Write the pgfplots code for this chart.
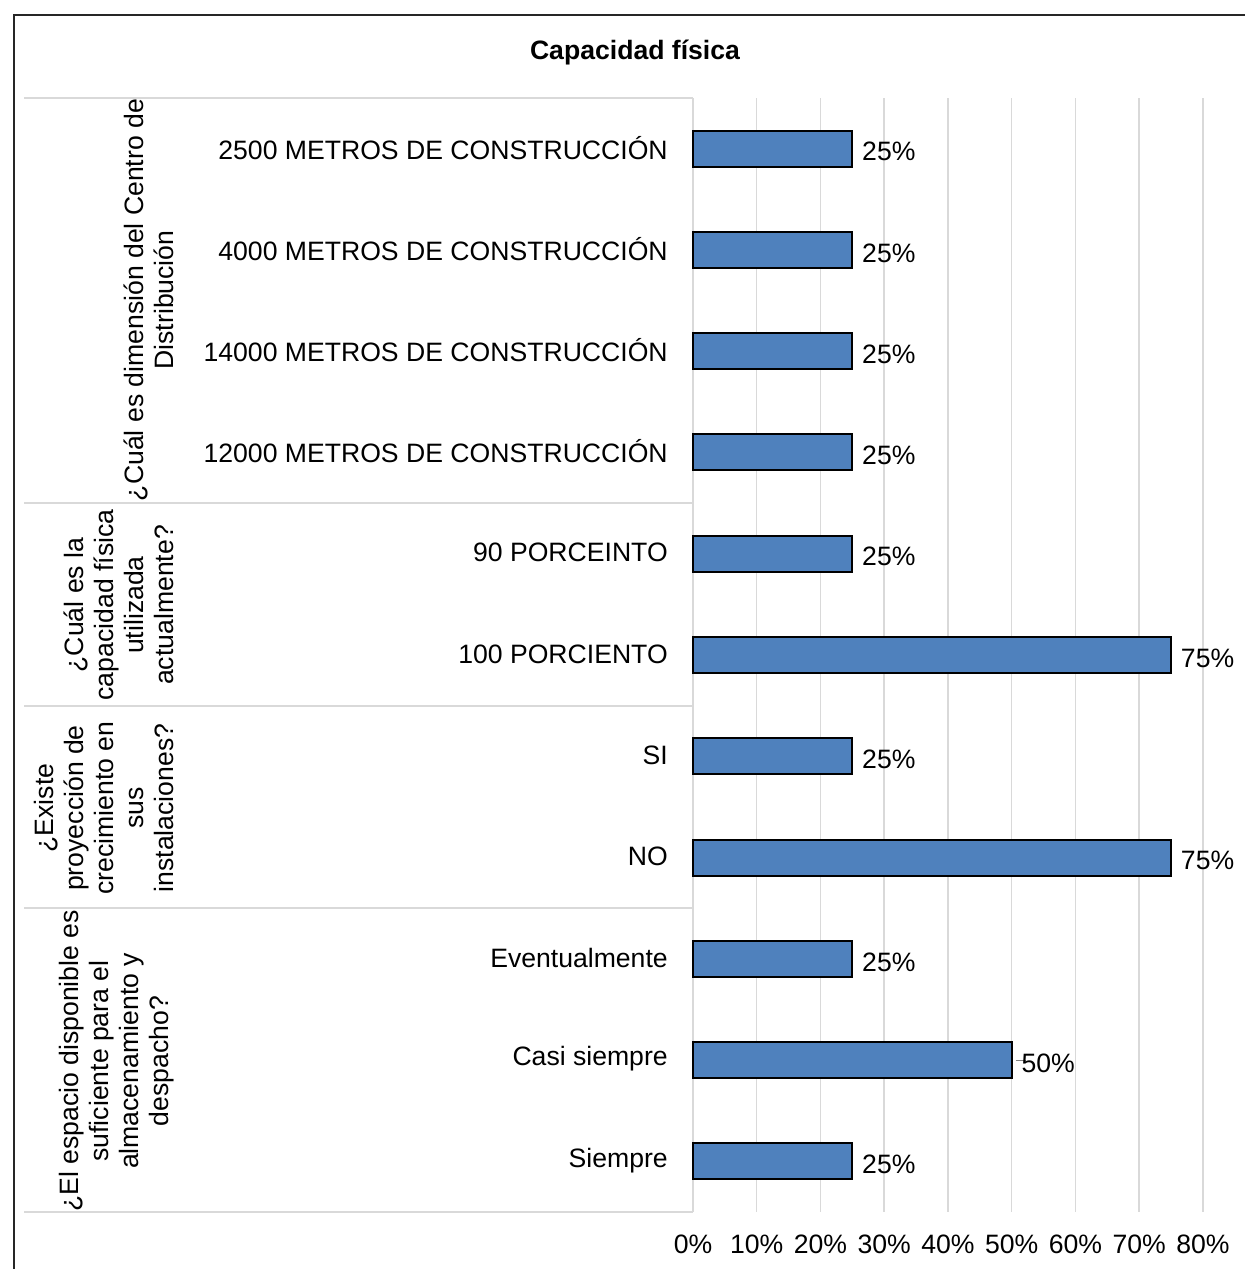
\documentclass[border=0pt]{standalone}
\usepackage{pgfplots}
\pgfplotsset{compat=1.18}
\usepackage{fontspec}
\setmainfont{Liberation Sans}
\definecolor{barblue}{HTML}{4F81BD}
\definecolor{gridgray}{HTML}{D9D9D9}

\pgfplotstableread{
y val
0 25
1 25
2 25
3 25
4 25
5 75
6 25
7 75
8 25
9 50
10 25
}\capacidad

\begin{document}
\begin{tikzpicture}
\fontsize{13.3}{15}\selectfont
\path[use as bounding box] (0,0) rectangle (622pt,-634.5pt);
\draw[black!85, line width=1pt] (6.75pt,-7.5pt) rectangle (640pt,-650pt);
\node[font=\bfseries\fontsize{13.3}{15}\selectfont] at (317.5pt,-26.5pt) {Capacidad física};

\begin{axis}[
  at={(346.5pt,-606pt)}, anchor=south west,
  scale only axis, width=255pt, height=557pt,
  xbar, bar width=18pt,
  xmin=0, xmax=80, ymin=-0.5, ymax=10.5, y dir=reverse,
  clip=false,
  axis line style={draw=none},
  major tick length=0pt,
  xtick={0,10,...,80},
  xticklabel={\pgfmathprintnumber{\tick}\%},
  xmajorgrids, grid style={gridgray, line width=0.75pt},
  ytick={0,...,10},
  yticklabels={2500 METROS DE CONSTRUCCIÓN, 4000 METROS DE CONSTRUCCIÓN, 14000 METROS DE CONSTRUCCIÓN, 12000 METROS DE CONSTRUCCIÓN, 90 PORCEINTO, 100 PORCIENTO, SI, NO, Eventualmente, Casi siempre, Siempre},
  ticklabel style={font=\fontsize{13.3}{15}\selectfont},
  yticklabel style={xshift=-8pt, yshift=0.5pt},
  xticklabel style={yshift=-7pt},
  /pgf/number format/assume math mode=true,
  nodes near coords={\pgfmathprintnumber{\pgfplotspointmeta}\%},
  nodes near coords style={font=\fontsize{13.3}{15}\selectfont, anchor=west, xshift=0pt, yshift=-1.5pt},
]
\addplot[fill=barblue, draw=black, line width=1pt] table[x=val, y=y] {\capacidad};
\draw[gray, line width=0.6pt] (axis cs:50.6,9) -- (axis cs:52.3,9);
\pgfplotsinvokeforeach{-0.5,3.5,5.5,7.5,10.5}{
  \draw[gridgray, line width=1pt] (axis cs:0,#1) -- (axis cs:-104.94,#1);
}
\end{axis}

\node[rotate=90, anchor=south, align=center] at (91.5pt,-150pt)
  {¿Cuál es dimensión del Centro de\\Distribución};
\node[rotate=90, anchor=south, align=center] at (91.5pt,-302.5pt)
  {¿Cuál es la\\capacidad física\\utilizada\\actualmente?};
\node[rotate=90, anchor=south, align=center] at (91.5pt,-404pt)
  {¿Existe\\proyección de\\crecimiento en\\sus\\instalaciones?};
\node[rotate=90, anchor=south, align=center] at (91.5pt,-530.5pt)
  {¿El espacio disponible es\\suficiente para el\\almacenamiento y\\despacho?};
\end{tikzpicture}
\end{document}
